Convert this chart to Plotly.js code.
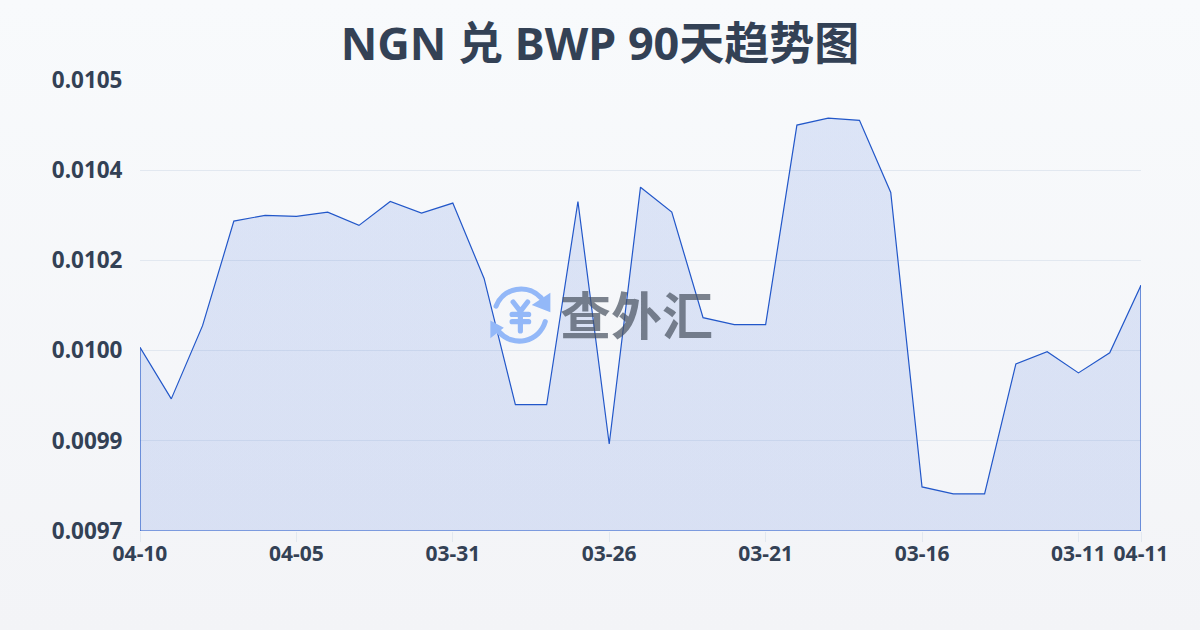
<!DOCTYPE html>
<html>
<head>
<meta charset="utf-8">
<script src="https://cdn.plot.ly/plotly-3.0.1.min.js"></script>
<style>
html,body{margin:0;padding:0;width:1200px;height:630px;overflow:hidden;background:linear-gradient(180deg,#f8fafc 0%,#f3f4f7 100%);}
#chart{width:1200px;height:630px;}
</style>
</head>
<body>
<div id="chart"></div>
<script>
const dates = ["04-10","04-09","04-08","04-07","04-06","04-05","04-04","04-03","04-02","04-01","03-31",
  "03-30","03-29","03-28","03-27","03-26","03-25","03-24","03-23","03-22","03-21",
  "03-20","03-19","03-18","03-17","03-16","03-15","03-14","03-13","03-12","03-11","03-10","04-11"];
const rates = [0.010026,0.009929,0.010067,0.010264,0.010275,0.010273,0.010281,0.010256,0.010301,0.010279,0.010298,
  0.010156,0.009918,0.009918,0.010301,0.009844,0.010328,0.010281,0.010082,0.010069,0.010069,
  0.010445,0.010458,0.010454,0.010318,0.009763,0.009750,0.009750,0.009995,0.010018,0.009978,0.010016,0.010143];
const xTickDates = ["04-10","04-05","03-31","03-26","03-21","03-16","03-11","04-11"];
const yTickValues = [0.00968,0.00985,0.01002,0.01019,0.01036,0.01053];
const yTickLabels = ["0.0097","0.0099","0.0100","0.0102","0.0104","0.0105"];
const titleText = "NGN 兑 BWP 90天趋势图";
const watermarkText = "查外汇";

const textColor = "#334155";
const lineColor = "#2257c9";
const yMin = yTickValues[0], yMax = yTickValues[yTickValues.length-1];
const lastDate = dates[dates.length-1];

const logoSvg = `<svg xmlns="http://www.w3.org/2000/svg" viewBox="0 0 60 60"><g fill="none" stroke="#93b8f8" stroke-linecap="round">
<path d="M6.5 21 A26 26 0 0 1 50 13" stroke-width="5"/><path d="M54 36 A26 26 0 0 1 9.5 46" stroke-width="5"/>
<path d="M23 17 L30 26 L37 17 M30 26 V45 M22 29 H38 M22 36 H38" stroke-width="5"/></g>
<path d="M59 8 V27 L41 20 Z M1 52 V35 L14 42 Z" fill="#93b8f8"/></svg>`;

const traces = [
  {
    x: dates, y: rates, type: "scatter", mode: "lines",
    line: {color: lineColor, width: 1.2},
    fill: "tozeroy", cliponaxis: false,
    fillgradient: {type: "vertical", colorscale: [[0,"rgba(37,89,215,0.17)"],[1,"rgba(37,89,215,0.13)"]]},
    hoverinfo: "skip", showlegend: false
  },
  {
    x: [dates[0], dates[0], lastDate, lastDate],
    y: [rates[0], yMin, yMin, rates[rates.length-1]],
    type: "scatter", mode: "lines", cliponaxis: false,
    line: {color: lineColor, width: 1.2},
    hoverinfo: "skip", showlegend: false
  }
];

const layout = {
  width: 1200, height: 630,
  paper_bgcolor: "rgba(0,0,0,0)", plot_bgcolor: "rgba(0,0,0,0)",
  margin: {l: 140, r: 59, t: 80, b: 99},
  title: {text: titleText, x: 0.5, xanchor: "center", y: 0.93, yanchor: "middle",
    font: {family: "'Noto Sans','Noto Sans CJK SC',sans-serif", size: 45, color: textColor, weight: 700}},
  font: {family: "'Noto Sans','Noto Sans CJK SC',sans-serif", color: textColor},
  xaxis: {
    type: "category", categoryorder: "array", categoryarray: dates,
    range: [0, dates.length-1], tickmode: "array", tickvals: xTickDates, ticktext: xTickDates,
    showgrid: false, showline: false, zeroline: false,
    ticks: "outside", ticklen: 10, tickwidth: 1, tickcolor: "#e2e8f0",
    ticklabelstandoff: -6,
    tickangle: 0, tickfont: {size: 21, weight: 700, color: textColor}
  },
  yaxis: {
    range: [yMin, yMax], tickmode: "array", tickvals: yTickValues, ticktext: yTickLabels,
    showgrid: true, gridcolor: "#e2e8f0", gridwidth: 1, zeroline: false, showline: false,
    ticks: "outside", ticklen: 12, tickcolor: "rgba(0,0,0,0)",
    tickfont: {size: 22.5, weight: 700, color: textColor}
  },
  images: [{
    source: "data:image/svg+xml;utf8," + encodeURIComponent(logoSvg),
    xref: "paper", yref: "paper", x: 0.349, y: 0.478, sizex: 0.062, sizey: 0.14,
    xanchor: "left", yanchor: "middle", layer: "above", sizing: "contain"
  }],
  annotations: [{
    text: watermarkText, xref: "paper", yref: "paper", x: 0.4965, y: 0.483,
    xanchor: "center", yanchor: "middle", showarrow: false,
    font: {family: "'Noto Sans CJK SC',sans-serif", size: 51, weight: 700, color: "rgba(75,85,99,0.72)"}
  }]
};

Plotly.newPlot("chart", traces, layout, {displayModeBar: false, staticPlot: true});
</script>
</body>
</html>
